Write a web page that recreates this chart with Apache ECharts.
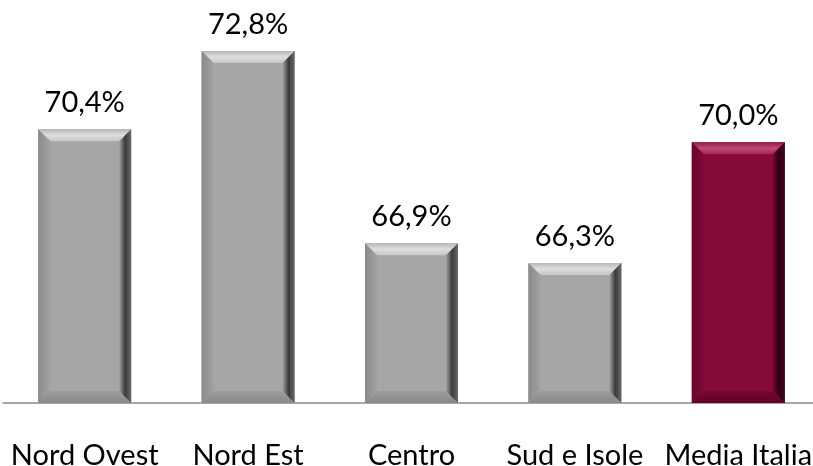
<!DOCTYPE html>
<html lang="it" style="height: 100%">
<head>
  <meta charset="utf-8">
</head>
<body style="height: 100%; margin: 0; background: #fff">
  <div id="container" style="height: 100%"></div>
  <script type="text/javascript" src="https://cdn.jsdelivr.net/npm/echarts@6/dist/echarts.min.js"></script>
  <script type="text/javascript">
    const categories = ['Nord Ovest', 'Nord Est', 'Centro', 'Sud e Isole', 'Media Italia'];
    const values = [70.4, 72.8, 66.9, 66.3, 70.0];
    const highlightIndex = 4;

    const yMin = 62;
    const yMax = 74;

    var dom = document.getElementById('container');
    var myChart = echarts.init(dom, null, { renderer: 'canvas' });

    // colour sets for the bevelled bars
    const palettes = {
      grey: { face: '#a6a6a6', top: ['#b8b8b8', '#dedede', '#c6c6c6'], bottom: ['#9c9c9c', '#888888'], left: ['#8a8a8a', '#a2a2a2'], right: ['#a0a0a0', '#3a3a3a', '#6a6a6a'] },
      red: { face: '#850a37', top: ['#951848', '#bf4a72', '#a22454'], bottom: ['#7a0632', '#5c0426'], left: ['#680528', '#82093a'], right: ['#7a0632', '#2a0010', '#4a0018'] }
    };

    function grad(x0, y0, x1, y1, cols) {
      return new echarts.graphic.LinearGradient(x0, y0, x1, y1,
        cols.map(function (c, i) { return { offset: i / (cols.length - 1), color: c }; }));
    }

    function renderBevel(params, api) {
      const idx = api.value(0);
      const top = api.coord([idx, api.value(1)]);
      const base = api.coord([idx, yMin]);
      const w = 93;
      const x0 = top[0] - w / 2, x1 = top[0] + w / 2;
      const y0 = top[1], y1 = base[1];
      const b = 12;
      const p = idx === highlightIndex ? palettes.red : palettes.grey;
      return {
        type: 'group',
        children: [
          { type: 'rect', shape: { x: x0, y: y0, width: w, height: y1 - y0 }, style: { fill: p.face } },
          { type: 'polygon', shape: { points: [[x0, y0], [x1, y0], [x1 - b, y0 + b], [x0 + b, y0 + b]] }, style: { fill: grad(0, 0, 0, 1, p.top) } },
          { type: 'polygon', shape: { points: [[x0, y1], [x1, y1], [x1 - b, y1 - b], [x0 + b, y1 - b]] }, style: { fill: grad(0, 0, 0, 1, p.bottom) } },
          { type: 'polygon', shape: { points: [[x0, y0], [x0 + b, y0 + b], [x0 + b, y1 - b], [x0, y1]] }, style: { fill: grad(0, 0, 1, 0, p.left) } },
          { type: 'polygon', shape: { points: [[x1, y0], [x1 - b, y0 + b], [x1 - b, y1 - b], [x1, y1]] }, style: { fill: grad(0, 0, 1, 0, p.right) } }
        ]
      };
    }

    const fontFamily = 'Lato, "Open Sans", sans-serif';

    var option = {
      backgroundColor: '#ffffff',
      animation: false,
      grid: { left: 3, width: 817, top: 12, bottom: 63, outerBoundsMode: 'none', containLabel: false },
      xAxis: {
        type: 'category',
        data: categories,
        axisLine: { lineStyle: { color: '#8c8c8c', width: 1.5 } },
        axisTick: { show: false },
        axisLabel: { color: '#000', fontSize: 29, fontFamily: fontFamily, margin: 38, interval: 0 }
      },
      yAxis: {
        type: 'value',
        min: yMin,
        max: yMax,
        show: false,
        splitLine: { show: false }
      },
      series: [
        {
          type: 'bar',
          data: values,
          barWidth: 93,
          itemStyle: { color: 'rgba(0,0,0,0)' },
          label: {
            show: true,
            position: 'top',
            distance: 12,
            color: '#000',
            fontSize: 29,
            fontFamily: fontFamily,
            formatter: function (d) { return d.value.toFixed(1).replace('.', ',') + '%'; }
          },
          z: 3
        },
        {
          type: 'custom',
          renderItem: renderBevel,
          data: values.map(function (v, i) { return [i, v]; }),
          encode: { x: 0, y: 1 },
          z: 2
        }
      ]
    };

    myChart.setOption(option);
    window.addEventListener('resize', myChart.resize);
  </script>
</body>
</html>
